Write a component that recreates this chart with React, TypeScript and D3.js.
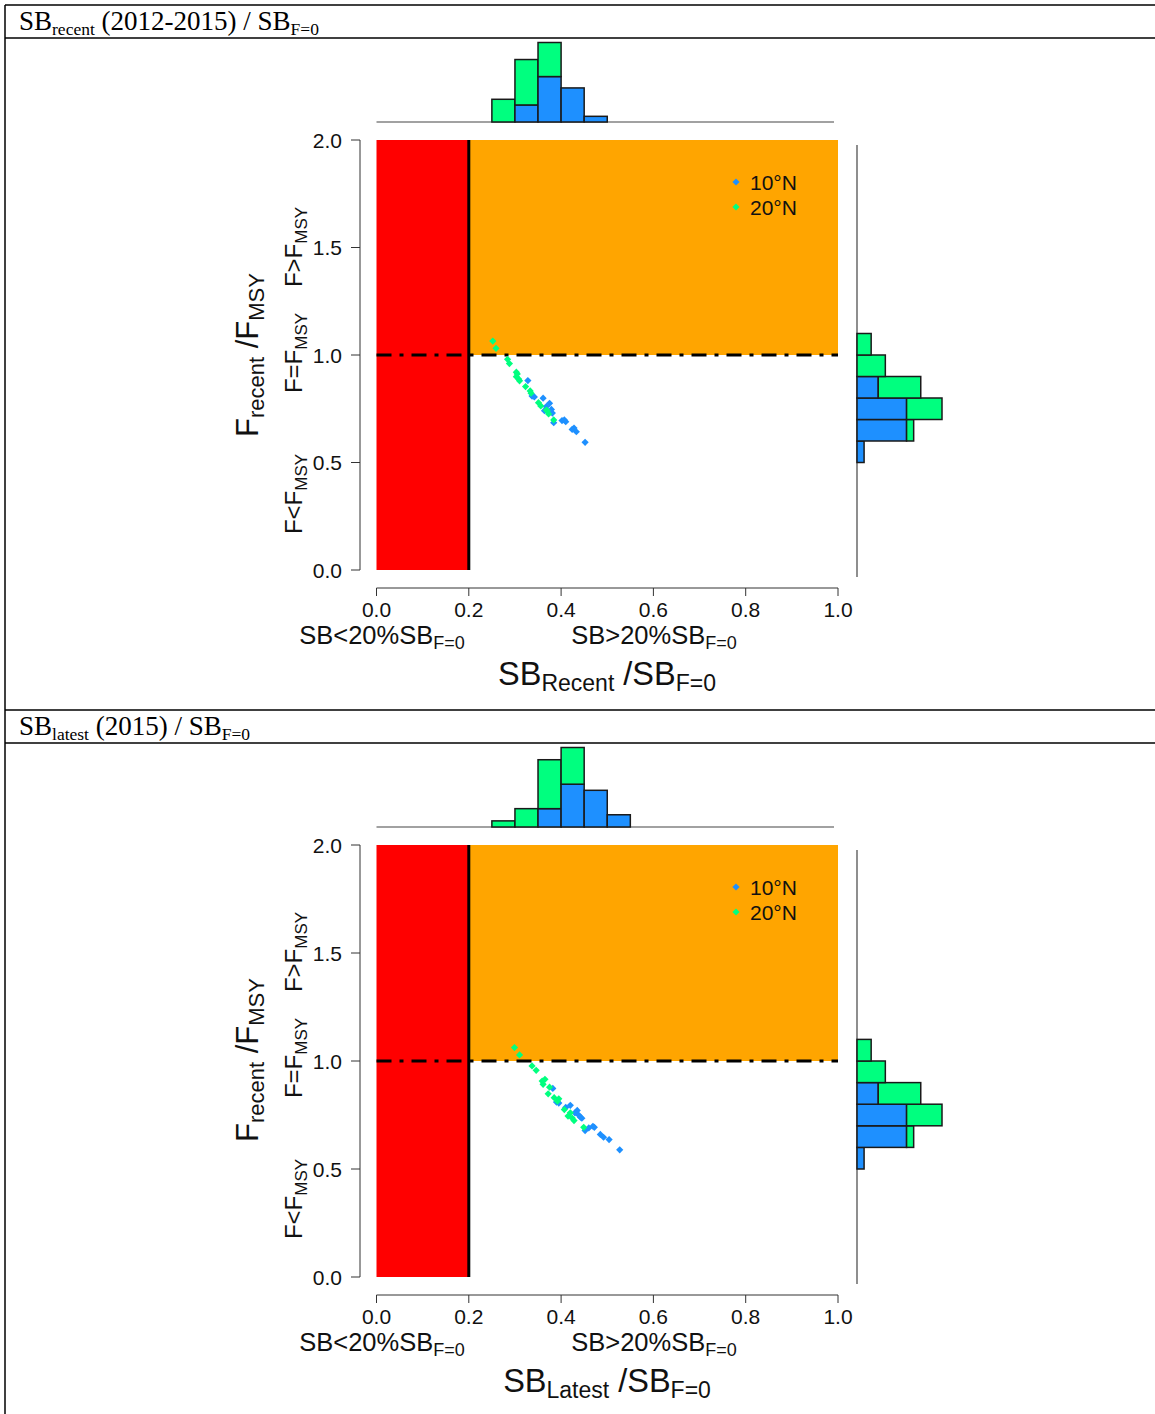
import React from 'react';
import * as d3 from 'd3';

// bin starts (width 0.05) for the top histograms
const topBins1 = [0.25, 0.3, 0.35, 0.4, 0.45];
const topBlue1 = [0, 3, 8, 6, 1];
const topGreen1 = [4, 8, 6, 0, 0];
const topBins2 = [0.25, 0.3, 0.35, 0.4, 0.45, 0.5];
const topBlue2 = [0, 0, 3, 7, 6, 2];
const topGreen2 = [1, 3, 8, 6, 0, 0];

// bin starts (width 0.1) for the right histogram (same F in both panels)
const sideBins = [0.5, 0.6, 0.7, 0.8, 0.9, 1.0];
const sideBlue = [1, 7, 7, 3, 0, 0];
const sideGreen = [0, 1, 5, 6, 4, 2];

// SB/SBF=0 , F/FMSY points
const blue1 = [
  [0.328, 0.881], [0.337, 0.809], [0.342, 0.805], [0.361, 0.799], [0.375, 0.775], [0.379, 0.747],
  [0.364, 0.741], [0.384, 0.685], [0.368, 0.76], [0.381, 0.73], [0.372, 0.735], [0.402, 0.695],
  [0.407, 0.698], [0.424, 0.654], [0.433, 0.643], [0.41, 0.69], [0.428, 0.66], [0.452, 0.594],
];
const green1 = [
  [0.252, 1.065], [0.259, 1.031], [0.284, 0.98], [0.288, 0.96], [0.305, 0.912], [0.303, 0.92],
  [0.308, 0.888], [0.303, 0.899], [0.323, 0.853], [0.333, 0.833], [0.335, 0.822], [0.31, 0.88],
  [0.351, 0.778], [0.356, 0.763], [0.368, 0.744], [0.373, 0.726], [0.37, 0.74], [0.384, 0.698],
];
const blue2 = [
  [0.382, 0.873], [0.39, 0.81], [0.395, 0.805], [0.42, 0.795], [0.435, 0.771], [0.442, 0.74],
  [0.41, 0.785], [0.43, 0.76], [0.445, 0.735], [0.438, 0.75], [0.469, 0.698], [0.472, 0.693],
  [0.452, 0.678], [0.492, 0.647], [0.46, 0.69], [0.485, 0.66], [0.504, 0.636], [0.527, 0.589],
];
const green2 = [
  [0.299, 1.062], [0.31, 1.028], [0.337, 0.977], [0.346, 0.957], [0.359, 0.907], [0.361, 0.892],
  [0.375, 0.879], [0.372, 0.848], [0.392, 0.814], [0.395, 0.825], [0.365, 0.915], [0.385, 0.83],
  [0.407, 0.775], [0.42, 0.76], [0.424, 0.736], [0.428, 0.724], [0.415, 0.745], [0.449, 0.693],
];

const xTicks = [0, 0.2, 0.4, 0.6, 0.8, 1.0];
const yTicks = [0, 0.5, 1.0, 1.5, 2.0];
const legendLabels = ['10°N', '20°N'];

const BLUE = '#1E90FF';
const GREEN = '#00FF7F';
const SANS = '"Liberation Sans", Arial, sans-serif';
const SERIF = '"Liberation Serif", "Times New Roman", serif';

const diamond = d3.symbol().type(d3.symbolSquare).size(26)();

function Panel({ dy, ex, title, sub, years, xSub, bins, blue, green, ptsBlue, ptsGreen }) {
  // ex: small extra stretch of the lower part of the second panel
  const x = d3.scaleLinear().domain([0, 1]).range([376.5, 838]);
  const y = d3.scaleLinear().domain([0, 2]).range([570 + dy + ex, 140 + dy]);
  const ly = dy + ex; // offset for things below the plot
  const topBase = 122 + dy;
  const maxTop = d3.max(blue.map((b, i) => b + green[i]));
  const hTop = d3.scaleLinear().domain([0, maxTop]).range([0, 79.5]);
  const sideBase = 857;
  const maxSide = d3.max(sideBlue.map((b, i) => b + sideGreen[i]));
  const wSide = d3.scaleLinear().domain([0, maxSide]).range([0, 85]);
  const histStroke = { stroke: '#1a1a1a', strokeWidth: 1.5 };

  return (
    <g>
      {/* table header */}
      <line x1={5} x2={1155} y1={5 + dy} y2={5 + dy} stroke="#000" strokeWidth={1.5} />
      <line x1={5} x2={1155} y1={38 + dy} y2={38 + dy} stroke="#000" strokeWidth={1.5} />
      <text x={19} y={30 + dy} fontFamily={SERIF} fontSize={27}>
        SB<tspan fontSize={17.5} dy={5}>{sub}</tspan>
        <tspan dy={-5}>{` ${years} / SB`}</tspan>
        <tspan fontSize={17.5} dy={5}>F=0</tspan>
      </text>

      {/* zones */}
      <rect x={x(0)} y={y(2)} width={x(0.2) - x(0)} height={y(0) - y(2)} fill="#FF0000" />
      <rect x={x(0.2)} y={y(2)} width={x(1) - x(0.2)} height={y(1) - y(2)} fill="#FFA500" />
      <line x1={x(0.2)} x2={x(0.2)} y1={y(2)} y2={y(0)} stroke="#000" strokeWidth={3} />
      <line x1={x(0)} x2={x(1)} y1={y(1)} y2={y(1)} stroke="#000" strokeWidth={3} strokeDasharray="15 8 4 8" />

      {/* points */}
      {ptsBlue.map((p, i) => (
        <path key={'b' + i} d={diamond} fill={BLUE} transform={`translate(${x(p[0])},${y(p[1])}) rotate(45)`} />
      ))}
      {ptsGreen.map((p, i) => (
        <path key={'g' + i} d={diamond} fill={GREEN} transform={`translate(${x(p[0])},${y(p[1])}) rotate(45)`} />
      ))}

      {/* legend */}
      {legendLabels.map((lab, i) => (
        <g key={lab}>
          <path d={diamond} fill={i === 0 ? BLUE : GREEN} transform={`translate(736,${182 + i * 25 + dy}) rotate(45)`} />
          <text x={750} y={182 + i * 25 + dy} dy="0.36em" fontFamily={SANS} fontSize={21} fill="#111">{lab}</text>
        </g>
      ))}

      {/* y axis */}
      <line x1={360} x2={360} y1={y(0)} y2={y(2)} stroke="#333" />
      {yTicks.map((t) => (
        <g key={t}>
          <line x1={351} x2={360} y1={y(t)} y2={y(t)} stroke="#333" />
          <text x={342} y={y(t)} dy="0.36em" textAnchor="end" fontFamily={SANS} fontSize={21} fill="#111">{t.toFixed(1)}</text>
        </g>
      ))}
      {/* x axis */}
      <line x1={x(0)} x2={x(1)} y1={588 + ly} y2={588 + ly} stroke="#333" />
      {xTicks.map((t) => (
        <g key={t}>
          <line x1={x(t)} x2={x(t)} y1={588 + ly} y2={596 + ly} stroke="#333" />
          <text x={x(t)} y={609 + ly} dy="0.36em" textAnchor="middle" fontFamily={SANS} fontSize={21} fill="#111">{t.toFixed(1)}</text>
        </g>
      ))}

      {/* zone labels */}
      {[['F>F', 247], ['F=F', 353], ['F<F', 494]].map(([lab, cy]) => (
        <text key={lab} transform={`translate(302,${+cy + dy}) rotate(-90)`} textAnchor="middle" fontFamily={SANS} fontSize={24} fill="#111">
          {lab}<tspan fontSize={17} dy={5}>MSY</tspan>
        </text>
      ))}
      <text transform={`translate(258,${355 + dy}) rotate(-90)`} textAnchor="middle" fontFamily={SANS} fontSize={31} fill="#111">
        F<tspan fontSize={22} dy={6}>recent</tspan><tspan dy={-6}> /F</tspan><tspan fontSize={22} dy={6}>MSY</tspan>
      </text>
      <text x={382} y={644 + ly} textAnchor="middle" fontFamily={SANS} fontSize={25.5} fill="#111">
        SB&lt;20%SB<tspan fontSize={18} dy={5}>F=0</tspan>
      </text>
      <text x={654} y={644 + ly} textAnchor="middle" fontFamily={SANS} fontSize={25.5} fill="#111">
        SB&gt;20%SB<tspan fontSize={18} dy={5}>F=0</tspan>
      </text>
      <text x={607} y={685 + ly} textAnchor="middle" fontFamily={SANS} fontSize={32.5} fill="#111">
        SB<tspan fontSize={23} dy={6}>{xSub}</tspan><tspan dy={-6}> /SB</tspan><tspan fontSize={23} dy={6}>F=0</tspan>
      </text>

      {/* top histogram */}
      <line x1={x(0)} x2={834} y1={topBase} y2={topBase} stroke="#444" strokeWidth={1.2} />
      {bins.map((b, i) => (
        <g key={b}>
          {blue[i] > 0 && (
            <rect x={x(b)} width={x(b + 0.05) - x(b)} y={topBase - hTop(blue[i])} height={hTop(blue[i])} fill={BLUE} {...histStroke} />
          )}
          {green[i] > 0 && (
            <rect x={x(b)} width={x(b + 0.05) - x(b)} y={topBase - hTop(blue[i] + green[i])} height={hTop(green[i])} fill={GREEN} {...histStroke} />
          )}
        </g>
      ))}

      {/* right histogram */}
      <line x1={sideBase} x2={sideBase} y1={145 + dy} y2={577 + ly} stroke="#444" strokeWidth={1.2} />
      {sideBins.map((b, i) => (
        <g key={b}>
          {sideBlue[i] > 0 && (
            <rect x={sideBase} width={wSide(sideBlue[i])} y={y(b + 0.1)} height={y(b) - y(b + 0.1)} fill={BLUE} {...histStroke} />
          )}
          {sideGreen[i] > 0 && (
            <rect x={sideBase + wSide(sideBlue[i])} width={wSide(sideGreen[i])} y={y(b + 0.1)} height={y(b) - y(b + 0.1)} fill={GREEN} {...histStroke} />
          )}
        </g>
      ))}
    </g>
  );
}

export default function App() {
  return (
    <svg width={1155} height={1414} style={{ position: 'absolute', left: 0, top: 0, background: '#fff' }}>
      <line x1={5} x2={5} y1={5} y2={1414} stroke="#000" strokeWidth={1.5} />
      <Panel dy={0} ex={0} sub="recent" years="(2012-2015)" xSub="Recent" bins={topBins1} blue={topBlue1} green={topGreen1} ptsBlue={blue1} ptsGreen={green1} />
      <Panel dy={705} ex={2} sub="latest" years="(2015)" xSub="Latest" bins={topBins2} blue={topBlue2} green={topGreen2} ptsBlue={blue2} ptsGreen={green2} />
    </svg>
  );
}
